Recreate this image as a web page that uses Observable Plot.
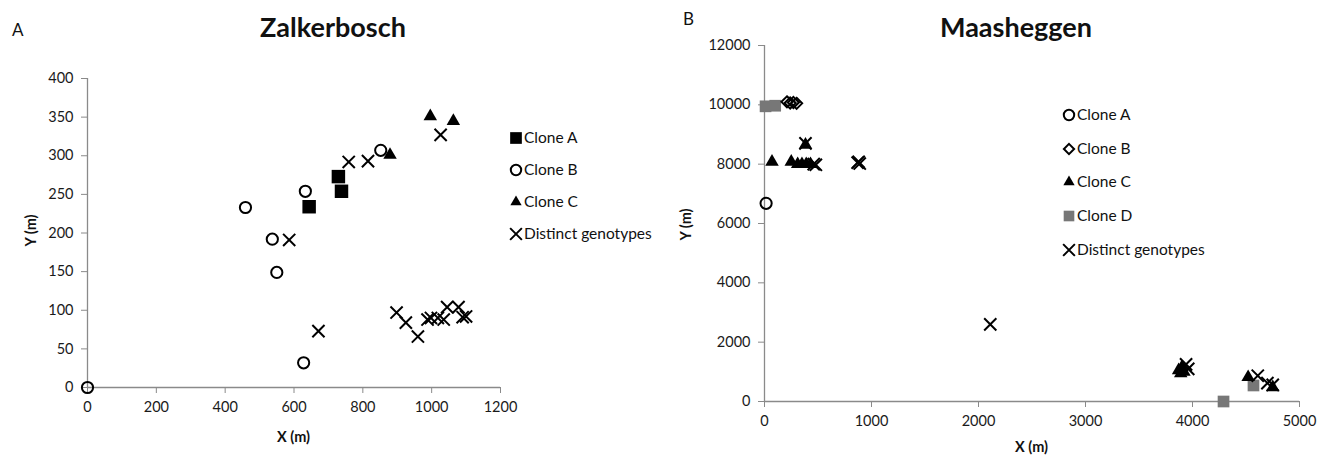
<!DOCTYPE html>
<html>
<head>
<meta charset="utf-8">
<script src="https://cdn.jsdelivr.net/npm/d3@7"></script>
<script src="https://cdn.jsdelivr.net/npm/@observablehq/plot@0.6"></script>
<style>
  body { margin: 0; background: #fff; }
  #root { position: relative; width: 1321px; height: 459px; font-family: Lato, "Open Sans", sans-serif; color: #111; overflow: hidden; }
  #root .plot { position: absolute; top: 0; }
  .txt { position: absolute; white-space: nowrap; }
  .title { font-weight: bold; font-size: 27px; transform: translateX(-50%); }
  .panel { font-size: 17px; }
  .axlab { font-weight: bold; font-size: 14.5px; }
  .leg { position: absolute; font-size: 15.5px; }
  .leg svg { position: absolute; left: -9px; top: -9px; overflow: visible; }
  .leg span { position: absolute; left: 8px; top: -10px; white-space: nowrap; }
</style>
</head>
<body>
<div id="root"></div>
<script>
// ---------- Zalkerbosch (panel A) ----------
const zalkXTicks = [0, 200, 400, 600, 800, 1000, 1200];
const zalkYTicks = [0, 50, 100, 150, 200, 250, 300, 350, 400];
const zalkCloneAX = [644, 729, 738];
const zalkCloneAY = [234, 273, 254];
const zalkCloneBX = [0, 459, 537, 550, 633, 628, 852];
const zalkCloneBY = [0, 233, 192, 149, 254, 32, 307];
const zalkCloneCX = [996, 1063, 879];
const zalkCloneCY = [351, 345, 301];
const zalkDistinctX = [586, 671, 759, 815, 1026, 898, 925, 960, 988, 998, 1018, 1035, 1045, 1078, 1090, 1100];
const zalkDistinctY = [191, 73, 292, 293, 327, 97, 84, 66, 88, 90, 90, 88, 104, 104, 91, 92];

// ---------- Maasheggen (panel B) ----------
const maasXTicks = [0, 1000, 2000, 3000, 4000, 5000];
const maasYTicks = [0, 2000, 4000, 6000, 8000, 10000, 12000];
const maasCloneAX = [15];
const maasCloneAY = [6680];
const maasCloneBX = [210, 240, 270, 300];
const maasCloneBY = [10100, 10060, 10080, 10050];
const maasCloneCX = [70, 250, 310, 350, 390, 430, 383, 3870, 3890, 3920, 3900, 4520, 4750];
const maasCloneCY = [8080, 8080, 8000, 8000, 8000, 8000, 8650, 1050, 950, 1000, 1150, 820, 480];
const maasCloneDX = [10, 100, 4290, 4570];
const maasCloneDY = [9950, 9970, 0, 540];
const maasDistinctX = [460, 480, 383, 870, 890, 880, 2110, 3940, 3960, 4610, 4700, 4750];
const maasDistinctY = [8000, 7980, 8700, 8050, 8020, 8080, 2600, 1250, 1100, 870, 620, 560];

const zalkLegend = ["Clone A", "Clone B", "Clone C", "Distinct genotypes"];
const maasLegend = ["Clone A", "Clone B", "Clone C", "Clone D", "Distinct genotypes"];

const rows = (xs, ys) => xs.map((x, i) => ({x, y: ys[i]}));

const styles = {
  sqBlack: {symbol: "square", r: 7.6, fill: "#000", stroke: "none"},
  sqGray: {symbol: "square", r: 6.6, fill: "#777", stroke: "none"},
  circle: {symbol: "circle", r: 5.6, fill: "none", stroke: "#000", strokeWidth: 2},
  diamond: {symbol: "diamond2", r: 5.0, fill: "none", stroke: "#000", strokeWidth: 2},
  tri: {symbol: "triangle", r: 5.0, fill: "#000", stroke: "none"},
  times: {symbol: "times", r: 5.6, fill: "none", stroke: "#000", strokeWidth: 2}
};

const fmt = d => String(d);
function axes(xTicks, yTicks) {
  return [
    Plot.ruleY([yTicks[0]], {stroke: "#8a8a8a", strokeWidth: 1.3}),
    Plot.ruleX([xTicks[0]], {stroke: "#8a8a8a", strokeWidth: 1.3}),
    Plot.axisX({ticks: xTicks, tickFormat: fmt, tickSize: 6, tickPadding: 8, stroke: "#8a8a8a", fill: "#1a1a1a", label: null, fontSize: 14.5}),
    Plot.axisY({ticks: yTicks, tickFormat: fmt, tickSize: 6, tickPadding: 8, stroke: "#8a8a8a", fill: "#1a1a1a", label: null, fontSize: 14.5})
  ];
}

const common = {height: 459, style: {fontFamily: "Lato, 'Open Sans', sans-serif", fontSize: "14.5px", background: "transparent", color: "#1a1a1a", overflow: "visible"}, clip: false};

const plotA = Plot.plot({
  ...common,
  width: 660,
  marginLeft: 87, marginRight: 160, marginTop: 78, marginBottom: 72,
  x: {domain: [0, 1200]},
  y: {domain: [0, 400]},
  marks: [
    ...axes(zalkXTicks, zalkYTicks),
    Plot.dot(rows(zalkCloneAX, zalkCloneAY), {x: "x", y: "y", ...styles.sqBlack}),
    Plot.dot(rows(zalkCloneBX, zalkCloneBY), {x: "x", y: "y", ...styles.circle}),
    Plot.dot(rows(zalkCloneCX, zalkCloneCY), {x: "x", y: "y", ...styles.tri}),
    Plot.dot(rows(zalkDistinctX, zalkDistinctY), {x: "x", y: "y", ...styles.times})
  ]
});

const plotB = Plot.plot({
  ...common,
  width: 661,
  marginLeft: 104, marginRight: 22, marginTop: 45, marginBottom: 58,
  x: {domain: [0, 5000]},
  y: {domain: [0, 12000]},
  marks: [
    ...axes(maasXTicks, maasYTicks),
    Plot.dot(rows(maasCloneDX, maasCloneDY), {x: "x", y: "y", ...styles.sqGray}),
    Plot.dot(rows(maasCloneAX, maasCloneAY), {x: "x", y: "y", ...styles.circle}),
    Plot.dot(rows(maasCloneBX, maasCloneBY), {x: "x", y: "y", ...styles.diamond}),
    Plot.dot(rows(maasCloneCX, maasCloneCY), {x: "x", y: "y", ...styles.tri}),
    Plot.dot(rows(maasDistinctX, maasDistinctY), {x: "x", y: "y", ...styles.times})
  ]
});

const root = document.getElementById("root");
plotA.classList.add("plot"); plotA.style.left = "0px";
plotB.classList.add("plot"); plotB.style.left = "660px";
root.appendChild(plotA);
root.appendChild(plotB);

function addText(cls, text, left, top, extra) {
  const d = document.createElement("div");
  d.className = "txt " + cls;
  d.textContent = text;
  d.style.left = left + "px";
  d.style.top = top + "px";
  if (extra) Object.assign(d.style, extra);
  root.appendChild(d);
  return d;
}
addText("title", "Zalkerbosch", 333, 10);
addText("title", "Maasheggen", 1016, 10);
addText("panel", "A", 12, 19);
addText("panel", "B", 683, 8);
addText("axlab", "X (m)", 277, 428);
addText("axlab", "X (m)", 1015, 438);
addText("axlab", "Y (m)", 14, 222, {transform: "rotate(-90deg)"});
addText("axlab", "Y (m)", 669, 216, {transform: "rotate(-90deg)"});

function symbolPath(st) {
  const map = {square: d3.symbolSquare, circle: d3.symbolCircle, diamond2: d3.symbolDiamond2, triangle: d3.symbolTriangle, times: d3.symbolTimes};
  return d3.symbol(map[st.symbol], Math.PI * st.r * st.r)();
}
function addLegend(labels, legStyles, left, top, gap) {
  const leg = document.createElement("div");
  leg.className = "leg";
  leg.style.left = left + "px";
  leg.style.top = top + "px";
  labels.forEach((lab, i) => {
    const st = legStyles[i];
    const row = document.createElement("div");
    row.style.top = (i * gap) + "px";
    row.style.position = "absolute";
    const svg = d3.create("svg").attr("width", 18).attr("height", 18);
    svg.append("path").attr("transform", "translate(9,9)").attr("d", symbolPath(st))
      .attr("fill", st.fill).attr("stroke", st.stroke).attr("stroke-width", st.strokeWidth || 0);
    row.appendChild(svg.node());
    const sp = document.createElement("span");
    sp.textContent = lab;
    row.appendChild(sp);
    leg.appendChild(row);
  });
  root.appendChild(leg);
}
addLegend(zalkLegend, [{...styles.sqBlack, r: 6.6}, {...styles.circle, r: 5.2}, {...styles.tri, r: 4.2}, {...styles.times, r: 5.4}], 516, 138, 32);
addLegend(maasLegend, [{...styles.circle, r: 5.2}, {...styles.diamond, r: 4.6}, {...styles.tri, r: 4.2}, {...styles.sqGray, r: 6}, {...styles.times, r: 5.4}], 1069, 115, 33.7);
</script>
</body>
</html>
